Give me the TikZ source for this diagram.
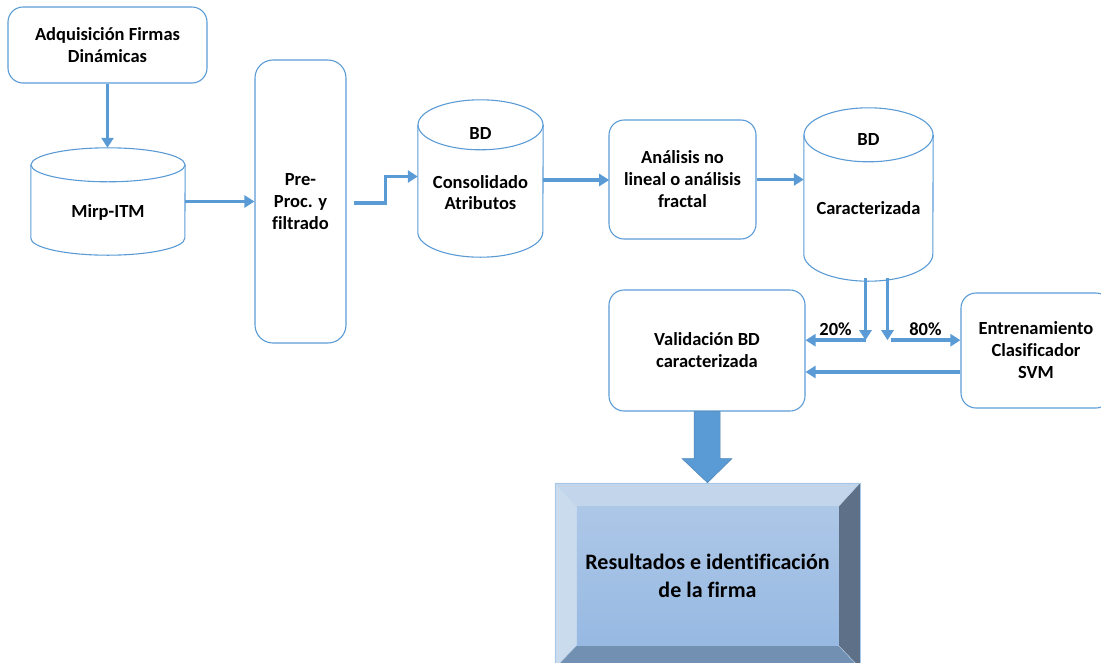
\documentclass[tikz,border=0pt]{standalone}
\usepackage{fontspec}
\setmainfont{Carlito}[Ligatures=NoCommon]
\usetikzlibrary{arrows.meta, calc, shapes.geometric, backgrounds, positioning}
\definecolor{azul}{HTML}{5B9BD5}
\definecolor{bevelTop}{HTML}{C2D5EB}
\definecolor{bevelLeft}{HTML}{CADBEE}
\definecolor{bevelRight}{HTML}{5E7088}
\definecolor{bevelBottom}{HTML}{7190B2}
\definecolor{caraTop}{HTML}{ADC7E7}
\definecolor{caraBottom}{HTML}{97B9E2}

% cylinder around a named node: #1 node, #2 x radius, #3 y radius
\newcommand{\dibujarCilindro}[3]{%
  \draw[azul, line width=1.1pt] ($(#1.north west)+(0,#3)$) -- ($(#1.south west)+(0,-#3)$)
    arc[start angle=180, end angle=0, x radius=#2, y radius=#3] -- ($(#1.north east)+(0,#3)$);
  \draw[azul, line width=1.1pt] ($(#1.north)+(0,#3)$) ellipse[x radius=#2, y radius=#3];
}

\begin{document}
\begin{tikzpicture}[x=1pt, y=-1pt,
    caja/.style={draw=azul, line width=1.1pt, rounded corners=15pt, align=center,
        font=\bfseries\fontsize{18.5}{22}\selectfont},
    cilindro/.style={draw=none, inner sep=0pt},
    etiqueta/.style={align=center, font=\bfseries\fontsize{18.5}{21}\selectfont},
    flecha/.style={draw=azul, line width=3.5pt, -{Triangle[length=10pt,width=12pt]}}]
\useasboundingbox (0,0) rectangle (1101,662);
\clip (0,0) rectangle (1101,662);

% Draw boxes
\node[caja, minimum width=199pt, minimum height=76pt] (adq) at (107.5,45) {Adquisición Firmas\\Dinámicas};
\node[caja, rounded corners=18pt, minimum width=91pt, minimum height=283pt] (pre) at (300.5,201.5) {Pre-\\Proc. y\\filtrado};
\node[caja, minimum width=147pt, minimum height=119pt] (ana) at (682.5,179.5) {Análisis no\\lineal o análisis\\fractal};
\node[caja, minimum width=196pt, minimum height=121pt] (val) at (707,350.5) {Validación BD\\caracterizada};
\node[caja, minimum width=150pt, minimum height=115pt] (ent) at (1036,350.5) {Entrenamiento\\Clasificador\\SVM};

% Draw databases
\node[cilindro, minimum width=154pt, minimum height=107pt] (mirp) at (108,201.5) {};
\dibujarCilindro{mirp}{77}{17}
\node[etiqueta] (mirpTxt) at ($(mirp.center)+(0,10.5)$) {Mirp-ITM};
\node[cilindro, minimum width=125pt, minimum height=157pt] (cons) at (480.5,178.5) {};
\dibujarCilindro{cons}{62.5}{25}
\node[etiqueta] (consBD) at ($(cons.center)+(0,-45.5)$) {BD};
\node[etiqueta] (consTxt) at ($(cons.center)+(0,14)$) {Consolidado\\Atributos};
\node[cilindro, minimum width=129pt, minimum height=173pt] (car) at (868.5,194.5) {};
\dibujarCilindro{car}{64.5}{27}
\node[etiqueta] (carBD) at ($(car.center)+(0,-55.5)$) {BD};
\node[etiqueta] (carTxt) at ($(car.center)+(0,13.5)$) {Caracterizada};

% Draw arrows
\draw[flecha] (adq.south) -- (adq.south |- mirp.north);
\draw[flecha] (mirp.east) -- (mirp.east -| pre.west);
\draw[flecha] ($(pre.east)+(7,1.5)$) -- ++(32,0) |- ($(cons.west)+(0,-2)$);
\draw[flecha] (cons.east -| cons.east) ++(0,1.5) -- ++(66,0);
\draw[flecha] (ana.east) -- (ana.east -| car.west);

% Split 20/80
\coordinate (c20) at ($(car.south)+(-3,59)$);
\coordinate (c80) at ($(car.south)+(19,59)$);
\draw[flecha] (car.south -| c20) ++(0,-3) -- (c20);
\draw[flecha] (car.south -| c80) ++(0,-3) -- (c80);
\draw[flecha] (c20) -- (c20 -| val.east) node[midway, above, etiqueta, yshift=-1pt]{20\%};
\draw[flecha] ($(c80)+(3,0)$) -- (c80 -| ent.west) node[midway, above, etiqueta, yshift=-1pt]{80\%};
\draw[flecha] ($(ent.west)+(0,21.5)$) -- ($(val.east)+(0,21.5)$);

% Draw result box
\node[draw=azul!55, line width=0.5pt, minimum width=305pt, minimum height=185pt, align=center,
    font=\bfseries\fontsize{22}{28}\selectfont] (res) at (707.5,575.5) {Resultados e identificación\\de la firma};
\begin{scope}[on background layer]
\coordinate (ri1) at ($(res.north west)+(22,24)$);
\coordinate (ri2) at ($(res.north east)+(-22,24)$);
\coordinate (ri3) at ($(res.south east)+(-22,-23)$);
\coordinate (ri4) at ($(res.south west)+(22,-23)$);
\fill[bevelTop] (res.north west) -- (res.north east) -- (ri2) -- (ri1) -- cycle;
\fill[bevelLeft] (res.north west) -- (ri1) -- (ri4) -- (res.south west) -- cycle;
\fill[bevelRight] (res.north east) -- (res.south east) -- (ri3) -- (ri2) -- cycle;
\fill[bevelBottom] (res.south west) -- (ri4) -- (ri3) -- (res.south east) -- cycle;
\shade[top color=caraTop, bottom color=caraBottom] (ri1) rectangle (ri3);
\draw[white!60!azul, line width=0.4pt] (res.north west) -- (ri1) (res.north east) -- (ri2)
    (res.south east) -- (ri3) (res.south west) -- (ri4);
\end{scope}

% Draw block arrow
\fill[azul, draw=azul!85!black, line width=0.5pt] ($(val.south)+(-13,0)$) -- ++(0,47) -- ++(-12,0) -- (res.north)
    -- ($(val.south)+(25,47)$) -- ++(-12,0) -- ($(val.south)+(13,0)$) -- cycle;
\end{tikzpicture}
\end{document}
